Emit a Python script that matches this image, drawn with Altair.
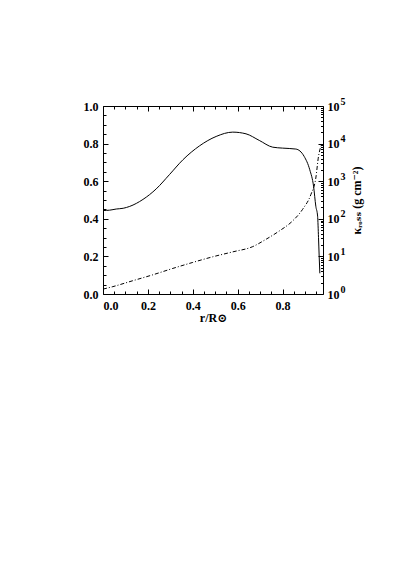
import altair as alt
import pandas as pd

# ---- data ----
r_solid = [0.0, 0.03, 0.059, 0.09, 0.119, 0.178, 0.237, 0.296, 0.356, 0.43, 0.504, 0.578,
           0.637, 0.696, 0.756, 0.80, 0.859, 0.896, 0.921, 0.938, 0.948, 0.956, 0.960, 0.963, 0.966]
v_solid = [0.444, 0.446, 0.452, 0.456, 0.466, 0.503, 0.559, 0.635, 0.714, 0.788, 0.838, 0.861,
           0.852, 0.817, 0.781, 0.776, 0.771, 0.732, 0.661, 0.573, 0.467, 0.414, 0.30, 0.20, 0.11]

r_kappa = [0.0, 0.044, 0.133, 0.222, 0.311, 0.4, 0.489, 0.578, 0.667, 0.726, 0.785,
           0.844, 0.889, 0.926, 0.948, 0.96, 0.972]
kappa = [1.35, 1.57, 2.26, 3.24, 4.79, 6.92, 9.77, 13.2, 18.2, 28.5, 47.3,
         87, 178, 442, 1216, 4571, 9000]

x_major = [0.0, 0.2, 0.4, 0.6, 0.8]
x_minor = [0.05, 0.1, 0.15, 0.25, 0.3, 0.35, 0.45, 0.5, 0.55, 0.65, 0.7, 0.75, 0.85, 0.9, 0.95]
y_major = [0.0, 0.2, 0.4, 0.6, 0.8, 1.0]
y_minor = [0.05, 0.1, 0.15, 0.25, 0.3, 0.35, 0.45, 0.5, 0.55, 0.65, 0.7, 0.75, 0.85, 0.9, 0.95]
k_major = [1, 10, 100, 1000, 10000, 100000]
k_minor = [m * 10 ** e for e in range(5) for m in range(2, 10)]

x_title = "r/R⊙"
k_title = "κᵣₒₛₛ (g cm⁻²)"

df_s = pd.DataFrame({"r": r_solid, "v": v_solid})
df_k = pd.DataFrame({"r": r_kappa, "k": kappa})

FONT = "'Liberation Serif', 'DejaVu Serif', serif"
xs = alt.Scale(domain=[0, 0.98], nice=False, zero=False)
ys = alt.Scale(domain=[0, 1], nice=False, zero=False)
ks = alt.Scale(type="log", domain=[1, 100000], nice=False)

common = dict(grid=False, labelFont=FONT, labelFontSize=12, labelFontWeight="bold",
              labelColor="black", domainColor="black", tickColor="black",
              titleFont=FONT, titleFontSize=12, titleFontWeight="bold", titleColor="black")


def tick_axis(orient, values, size):
    return alt.Axis(orient=orient, values=values, labels=False, domain=False, ticks=True,
                    tickSize=size, offset=-size, tickWidth=1, title=None, **common)


# main solid line with bottom/left labelled axes
solid = alt.Chart(df_s).mark_line(color="black", strokeWidth=1, interpolate="monotone").encode(
    x=alt.X("r:Q", scale=xs, axis=alt.Axis(orient="bottom", values=x_major, format=".1f",
                                            ticks=False, tickSize=0, labelPadding=6,
                                            title=x_title, titlePadding=1, **common)),
    y=alt.Y("v:Q", scale=ys, axis=alt.Axis(orient="left", values=y_major, format=".1f",
                                            ticks=False, tickSize=0, labelPadding=5,
                                            title=None, **common)),
)

# dash-dot kappa line with top/right axes
kline = alt.Chart(df_k).mark_line(color="black", strokeWidth=1, strokeDash=[4, 2, 1, 2],
                                  interpolate="monotone").encode(
    x=alt.X("r:Q", scale=xs, axis=alt.Axis(orient="top", labels=False, ticks=False, tickSize=0,
                                            title=None, **common)),
    y=alt.Y("k:Q", scale=ks, axis=alt.Axis(orient="right", values=k_major, labelExpr="'10'",
                                            ticks=False, tickSize=0, labelPadding=4,
                                            title=k_title, titleAngle=270, titlePadding=24,
                                            **common)),
)

# exponent labels for the right axis
kexp = alt.Chart(df_k).mark_line(opacity=0).encode(
    x=alt.X("r:Q", scale=xs, axis=alt.Axis(orient="bottom", labels=False, ticks=False,
                                            domain=False, tickSize=0, title=None, **common)),
    y=alt.Y("k:Q", scale=ks, axis=alt.Axis(orient="right", values=k_major,
                                            labelExpr="'' + round(log(datum.value) / LN10)",
                                            ticks=False, tickSize=0, domain=False,
                                            labelPadding=17, labelOffset=-5,
                                            title=None, **{**common, "labelFontSize": 10})),
)

layers = [solid, kline, kexp]

# tick layers (inward ticks)
layers.append(alt.Chart(df_s).mark_line(opacity=0).encode(
    x=alt.X("r:Q", scale=xs, axis=tick_axis("bottom", x_major, 5)),
    y=alt.Y("v:Q", scale=ys, axis=tick_axis("left", y_major, 5))))
layers.append(alt.Chart(df_s).mark_line(opacity=0).encode(
    x=alt.X("r:Q", scale=xs, axis=tick_axis("bottom", x_minor, 3)),
    y=alt.Y("v:Q", scale=ys, axis=tick_axis("left", y_minor, 3))))
layers.append(alt.Chart(df_k).mark_line(opacity=0).encode(
    x=alt.X("r:Q", scale=xs, axis=tick_axis("top", x_major, 5)),
    y=alt.Y("k:Q", scale=ks, axis=tick_axis("right", k_major, 5))))
layers.append(alt.Chart(df_k).mark_line(opacity=0).encode(
    x=alt.X("r:Q", scale=xs, axis=tick_axis("top", x_minor, 3)),
    y=alt.Y("k:Q", scale=ks, axis=tick_axis("right", k_minor, 2.5))))

chart = alt.layer(*layers).resolve_scale(
    x="independent", y="independent"
).resolve_axis(
    x="independent", y="independent"
).properties(
    width=220, height=188,
    autosize=alt.AutoSizeParams(type="none"),
    padding={"left": 95, "top": 98, "right": 80, "bottom": 60},
    background="white",
).configure_view(strokeWidth=0)

chart.save("out.html", embed_options={"renderer": "svg", "actions": False})
